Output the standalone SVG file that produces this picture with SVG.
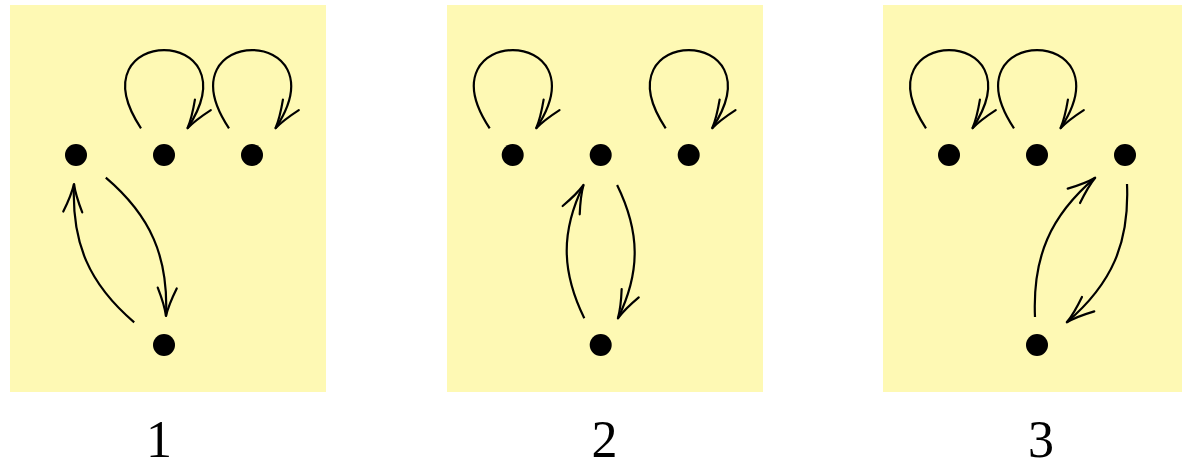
<svg xmlns="http://www.w3.org/2000/svg" width="1182" height="462" viewBox="0 0 1182 462">
  <style>
    .panel { fill: #fef9b4; stroke: none; }
    .dot { fill: #000; }
    .edge { fill: none; stroke: #000; stroke-width: 2.2; marker-end: url(#to); }
    .label { font-family: "Liberation Serif", "DejaVu Serif", serif; font-size: 52px; fill: #000; text-anchor: middle; }
  </style>
  <defs>
    <marker id="to" markerUnits="userSpaceOnUse" orient="auto" refX="0" refY="0" markerWidth="40" markerHeight="30" viewBox="-34 -15 40 30" overflow="visible">
      <path d="M-28,-9.5 Q-11,-2 0,0 Q-11,2 -28,9.5" fill="none" stroke="#000" stroke-width="2.2" stroke-linecap="round" stroke-linejoin="round"/>
    </marker>
  </defs>

  <g id="panels">
    <rect class="panel" x="10" y="5" width="316" height="387"/>
    <rect class="panel" x="447" y="5" width="316" height="387"/>
    <rect class="panel" x="883" y="5" width="316" height="387"/>
  </g>

  <g id="connectors">
    <!-- panel 1 -->
    <path class="edge" d="M141,128.3 C72,24 256,24 187.5,128.3"/>
    <path class="edge" d="M229,128.3 C160,24 344,24 275.5,128.3"/>
    <path class="edge" d="M134.2,322.3 C89.2,284 71.4,243 74,184"/>
    <path class="edge" d="M105.8,177.7 C150.8,216 168.6,257 166,316"/>
    <!-- panel 2 -->
    <path class="edge" d="M489.7,128.3 C420.7,24 604.7,24 536.2,128.3"/>
    <path class="edge" d="M665.7,128.3 C596.7,24 780.7,24 712.2,128.3"/>
    <path class="edge" d="M584.3,318.3 C561.4,271.5 560.6,231.8 583.5,185"/>
    <path class="edge" d="M617.1,185.1 C640,231.9 640.8,271.6 617.9,318.4"/>
    <!-- panel 3 -->
    <path class="edge" d="M926,128.3 C857,24 1041,24 972.5,128.3"/>
    <path class="edge" d="M1014,128.3 C945,24 1129,24 1060.5,128.3"/>
    <path class="edge" d="M1035,317 C1032.4,257 1050.2,216 1095.2,177.7"/>
    <path class="edge" d="M1127,184 C1129.6,243 1111.8,284 1066.8,322.3"/>
  </g>

  <g id="p1-n1"><circle class="dot" cx="76" cy="155" r="11"/></g>
  <g id="p1-n2"><circle class="dot" cx="164" cy="155" r="11"/></g>
  <g id="p1-n3"><circle class="dot" cx="252" cy="155" r="11"/></g>
  <g id="p1-n4"><circle class="dot" cx="164" cy="345" r="11"/></g>

  <g id="p2-n1"><circle class="dot" cx="512.7" cy="155" r="11"/></g>
  <g id="p2-n2"><circle class="dot" cx="600.7" cy="155" r="11"/></g>
  <g id="p2-n3"><circle class="dot" cx="688.7" cy="155" r="11"/></g>
  <g id="p2-n4"><circle class="dot" cx="600.7" cy="345" r="11"/></g>

  <g id="p3-n1"><circle class="dot" cx="949" cy="155" r="11"/></g>
  <g id="p3-n2"><circle class="dot" cx="1037" cy="155" r="11"/></g>
  <g id="p3-n3"><circle class="dot" cx="1125" cy="155" r="11"/></g>
  <g id="p3-n4"><circle class="dot" cx="1037" cy="345" r="11"/></g>

  <g id="labels">
    <text class="label" x="159" y="457">1</text>
    <text class="label" x="604.5" y="457">2</text>
    <text class="label" x="1041" y="457">3</text>
  </g>
</svg>
